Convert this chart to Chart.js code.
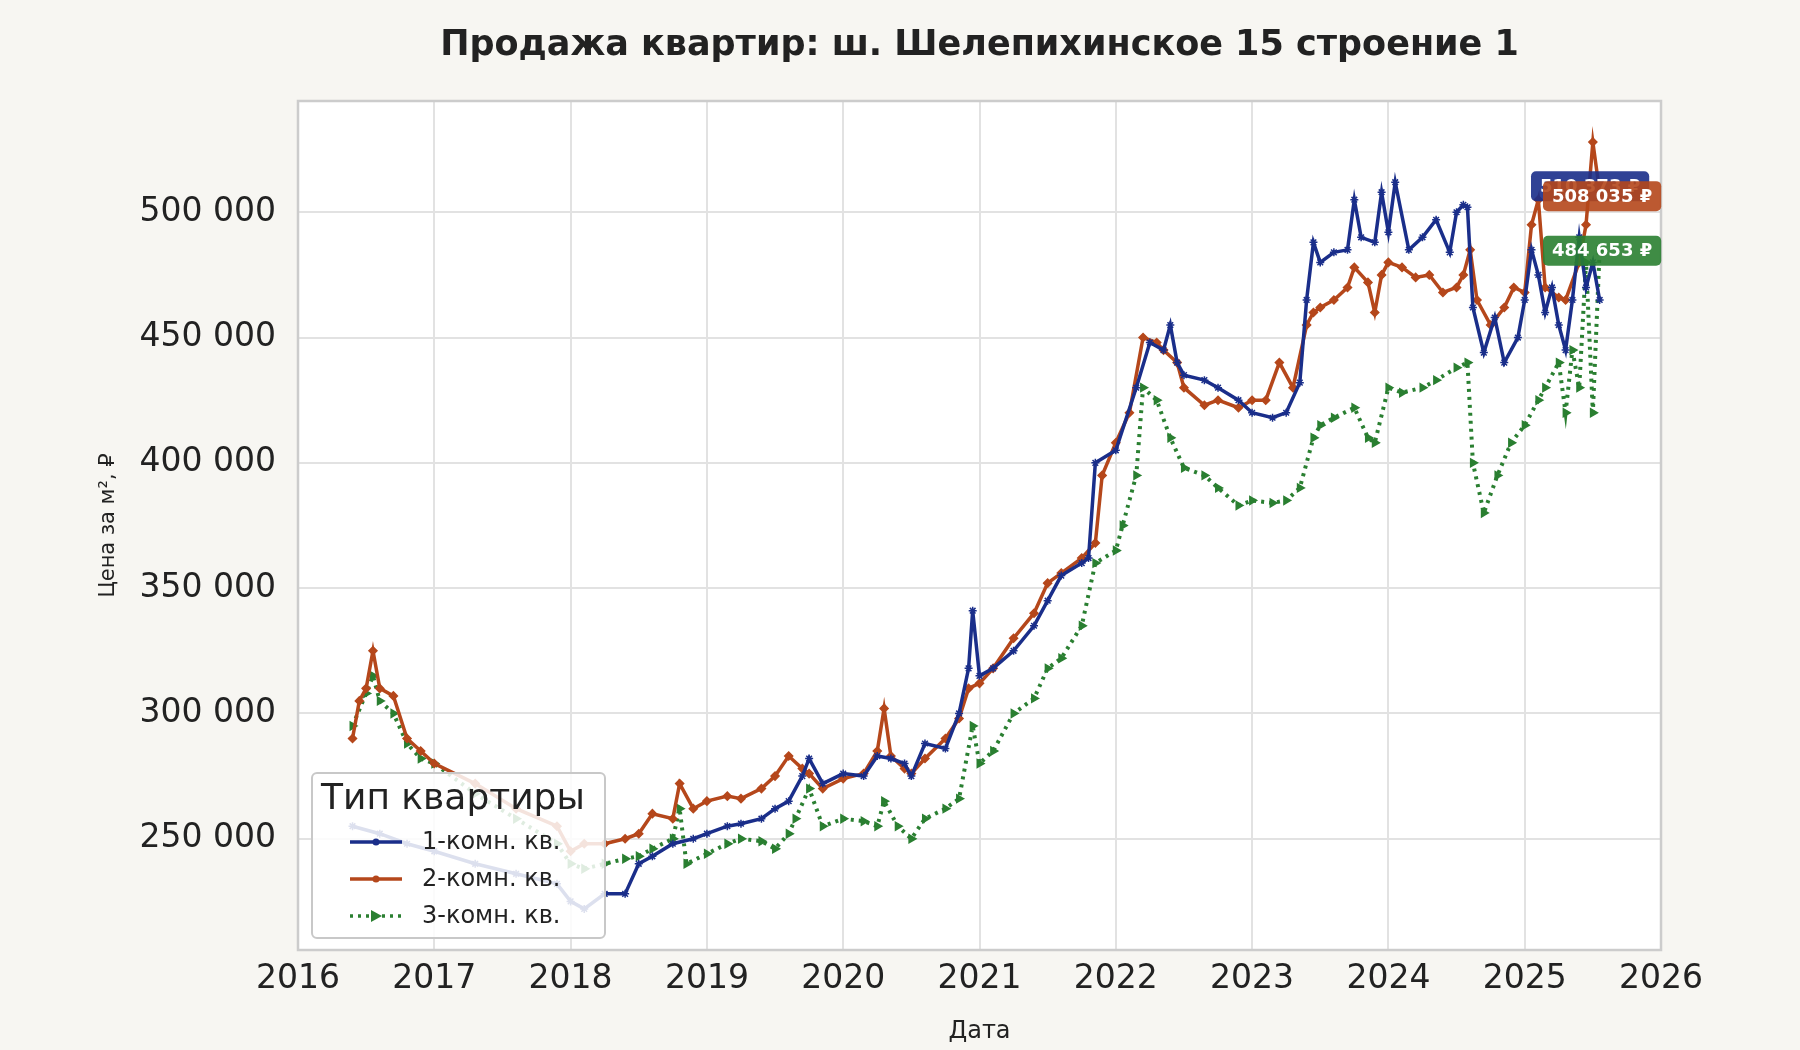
<!DOCTYPE html>
<html><head><meta charset="utf-8">
<script src="https://cdn.jsdelivr.net/npm/chart.js@4"></script>
<style>html,body{margin:0;background:#f7f6f2}#w{width:1800px;height:1050px}</style>
</head><body><div id="w"><canvas id="c"></canvas></div>
<script>
const seriesNames = ["1-комн. кв.", "2-комн. кв.", "3-комн. кв."];
const xTicks = [2016,2017,2018,2019,2020,2021,2022,2023,2024,2025,2026];
const yTicks = [250000,300000,350000,400000,450000,500000];
const t1 = [2016.4,2016.6,2016.8,2017.0,2017.3,2017.6,2017.9,2018.0,2018.1,2018.25,2018.4,2018.5,2018.6,2018.75,2018.9,2019.0,2019.15,2019.25,2019.4,2019.5,2019.6,2019.7,2019.75,2019.85,2020.0,2020.15,2020.25,2020.35,2020.45,2020.5,2020.6,2020.75,2020.85,2020.92,2020.95,2021.0,2021.1,2021.25,2021.4,2021.5,2021.6,2021.75,2021.8,2021.85,2022.0,2022.15,2022.25,2022.35,2022.4,2022.45,2022.5,2022.65,2022.75,2022.9,2023.0,2023.15,2023.25,2023.35,2023.4,2023.45,2023.5,2023.6,2023.7,2023.75,2023.8,2023.9,2023.95,2024.0,2024.05,2024.15,2024.25,2024.35,2024.45,2024.5,2024.55,2024.58,2024.62,2024.7,2024.78,2024.85,2024.95,2025.0,2025.05,2025.1,2025.15,2025.2,2025.25,2025.3,2025.35,2025.4,2025.45,2025.5,2025.55];
const v1 = [255000,252000,248000,245000,240000,236000,232000,225000,222000,228000,228000,240000,243000,248000,250000,252000,255000,256000,258000,262000,265000,275000,282000,272000,276000,275000,283000,282000,280000,275000,288000,286000,300000,318000,341000,315000,318000,325000,335000,345000,355000,360000,362000,400000,405000,430000,448000,445000,455000,440000,435000,433000,430000,425000,420000,418000,420000,432000,465000,488000,480000,484000,485000,505000,490000,488000,508000,492000,512000,485000,490000,497000,484000,500000,503000,502000,462000,444000,458000,440000,450000,465000,485000,475000,460000,470000,455000,445000,465000,490000,470000,480000,465000];
const t2 = [2016.4,2016.45,2016.5,2016.55,2016.6,2016.7,2016.8,2016.9,2017.0,2017.3,2017.6,2017.9,2018.0,2018.1,2018.25,2018.4,2018.5,2018.6,2018.75,2018.8,2018.9,2019.0,2019.15,2019.25,2019.4,2019.5,2019.6,2019.7,2019.75,2019.85,2020.0,2020.15,2020.25,2020.3,2020.35,2020.45,2020.5,2020.6,2020.75,2020.85,2020.92,2021.0,2021.1,2021.25,2021.4,2021.5,2021.6,2021.75,2021.85,2021.9,2022.0,2022.1,2022.2,2022.3,2022.35,2022.45,2022.5,2022.65,2022.75,2022.9,2023.0,2023.1,2023.2,2023.3,2023.4,2023.45,2023.5,2023.6,2023.7,2023.75,2023.85,2023.9,2023.95,2024.0,2024.1,2024.2,2024.3,2024.4,2024.5,2024.55,2024.6,2024.65,2024.75,2024.85,2024.92,2025.0,2025.05,2025.1,2025.15,2025.25,2025.3,2025.4,2025.45,2025.5,2025.55];
const v2 = [290000,305000,310000,325000,310000,307000,290000,285000,280000,272000,262000,255000,245000,248000,248000,250000,252000,260000,258000,272000,262000,265000,267000,266000,270000,275000,283000,278000,276000,270000,274000,276000,285000,302000,283000,278000,276000,282000,290000,298000,310000,312000,318000,330000,340000,352000,356000,362000,368000,395000,408000,420000,450000,448000,445000,440000,430000,423000,425000,422000,425000,425000,440000,430000,455000,460000,462000,465000,470000,478000,472000,460000,475000,480000,478000,474000,475000,468000,470000,475000,485000,465000,455000,462000,470000,468000,495000,505000,470000,466000,465000,480000,495000,528000,508000];
const t3 = [2016.4,2016.5,2016.55,2016.6,2016.7,2016.8,2016.9,2017.0,2017.3,2017.6,2017.9,2018.0,2018.1,2018.25,2018.4,2018.5,2018.6,2018.75,2018.8,2018.85,2019.0,2019.15,2019.25,2019.4,2019.5,2019.6,2019.65,2019.75,2019.85,2020.0,2020.15,2020.25,2020.3,2020.4,2020.5,2020.6,2020.75,2020.85,2020.95,2021.0,2021.1,2021.25,2021.4,2021.5,2021.6,2021.75,2021.85,2022.0,2022.05,2022.15,2022.2,2022.3,2022.4,2022.5,2022.65,2022.75,2022.9,2023.0,2023.15,2023.25,2023.35,2023.45,2023.5,2023.6,2023.75,2023.85,2023.9,2024.0,2024.1,2024.25,2024.35,2024.5,2024.58,2024.62,2024.7,2024.8,2024.9,2025.0,2025.1,2025.15,2025.25,2025.3,2025.35,2025.4,2025.45,2025.5,2025.55];
const v3 = [295000,308000,315000,305000,300000,288000,282000,280000,268000,258000,248000,240000,238000,240000,242000,243000,246000,250000,262000,240000,244000,248000,250000,249000,246000,252000,258000,270000,255000,258000,257000,255000,265000,255000,250000,258000,262000,266000,295000,280000,285000,300000,306000,318000,322000,335000,360000,365000,375000,395000,430000,425000,410000,398000,395000,390000,383000,385000,384000,385000,390000,410000,415000,418000,422000,410000,408000,430000,428000,430000,433000,438000,440000,400000,380000,395000,408000,415000,425000,430000,440000,420000,445000,430000,480000,420000,485000];
const endLabels = ["510 373 ₽","508 035 ₽","484 653 ₽"];
const endValues = [510373,508035,484653];
const colors = ["#1a2e8a","#b5471b","#2a7f31"];

const F = "DejaVu Sans";
const mk = (t,v)=>t.map((x,i)=>({x:x,y:v[i]}));
const fmt = n => String(Math.round(n)).replace(/\B(?=(\d{3})+(?!\d))/g," ");

const deco = {
  id:'deco',
  beforeDraw(ch){
    const c=ch.ctx,a=ch.chartArea;
    c.save();c.fillStyle='#fff';c.fillRect(a.left,a.top,a.right-a.left,a.bottom-a.top);c.restore();
  },
  afterDraw(ch){
    const c=ch.ctx,a=ch.chartArea,y=ch.scales.y;
    c.save();
    c.strokeStyle='#cccccc';c.lineWidth=2.5;c.strokeRect(a.left,a.top,a.right-a.left,a.bottom-a.top);
    c.fillStyle='#222';c.font='bold 35px '+F;c.textAlign='center';c.textBaseline='middle';
    c.fillText('Продажа квартир: ш. Шелепихинское 15 строение 1',(a.left+a.right)/2,46);
    c.save();c.translate(109,(a.top+a.bottom)/2);c.rotate(-Math.PI/2);
    c.font='21px '+F;c.fillText('Цена за м², ₽',0,0);c.restore();
    // end labels
    c.font='bold 18px '+F;
    const xs=[a.right-130,a.right-118,a.right-118];
    endValues.forEach((v,i)=>{
      const py=y.getPixelForValue(v)+(i==1?4:0), w=c.measureText(endLabels[i]).width+18, x0=xs[i];
      c.fillStyle=colors[i];c.globalAlpha=0.9;
      c.beginPath();c.roundRect(x0,py-15,w,30,5);c.fill();c.globalAlpha=1;
      c.fillStyle='#fff';c.textAlign='left';c.fillText(endLabels[i],x0+9,py+1);
    });
    // legend
    const L=312,T=773,W=293,H=165;
    c.globalAlpha=0.85;c.fillStyle='#fff';c.beginPath();c.roundRect(L,T,W,H,5);c.fill();c.globalAlpha=1;
    c.strokeStyle='#c8c8c8';c.lineWidth=2;c.stroke();
    c.fillStyle='#222';c.textAlign='left';c.font='36px '+F;c.fillText('Тип квартиры',L+9,T+27);
    c.font='24px '+F;
    seriesNames.forEach((n,i)=>{
      const ly=T+69+i*37;
      c.strokeStyle=colors[i];c.lineWidth=3.5;c.setLineDash(i==2?[3,5]:[]);
      c.beginPath();c.moveTo(L+38,ly);c.lineTo(L+90,ly);c.stroke();c.setLineDash([]);
      c.fillStyle=colors[i];c.beginPath();
      if(i==2){c.moveTo(L+59,ly-6);c.lineTo(L+70,ly);c.lineTo(L+59,ly+6);}
      else{c.arc(L+64,ly,3.5,0,7);}
      c.fill();
      c.fillStyle='#222';c.fillText(n,L+110,ly+1);
    });
    c.restore();
  }
};

const ds = [[t1,v1,'star',0],[t2,v2,'rectRot',0],[t3,v3,'triangle',90]].map((d,i)=>({
  label:seriesNames[i],data:mk(d[0],d[1]),borderColor:colors[i],backgroundColor:colors[i],
  borderWidth:i==2?4:3.5,borderDash:i==2?[3,5]:[],pointStyle:d[2],rotation:d[3],
  pointRadius:i==2?4.5:4,pointBorderWidth:1.5,pointHoverRadius:0,tension:0
}));

new Chart(document.getElementById('c'),{
  type:'line',
  data:{datasets:ds},
  plugins:[deco],
  options:{
    responsive:true,maintainAspectRatio:false,animation:false,devicePixelRatio:1,
    layout:{padding:{top:101,right:139,left:0,bottom:0}},
    plugins:{legend:{display:false},tooltip:{enabled:false}},
    scales:{
      x:{type:'linear',min:2016,max:2026,
        afterBuildTicks:s=>{s.ticks=xTicks.map(v=>({value:v}));},
        afterFit:s=>{s.height=100;},
        grid:{color:'#e2e2e2',lineWidth:2,drawTicks:false},border:{display:false},
        ticks:{color:'#222',font:{family:F,size:33},padding:10,callback:v=>String(v),maxRotation:0},
        title:{display:true,text:'Дата',color:'#222',font:{family:F,size:24},padding:{top:0}}},
      y:{type:'linear',min:205600,max:544400,
        afterBuildTicks:s=>{s.ticks=yTicks.map(v=>({value:v}));},
        afterFit:s=>{s.width=298;},
        grid:{color:'#e2e2e2',lineWidth:2,drawTicks:false},border:{display:false},
        ticks:{color:'#222',font:{family:F,size:33},padding:22,callback:v=>fmt(v)},
        title:{display:false}}
    }
  }
});
</script></body></html>
